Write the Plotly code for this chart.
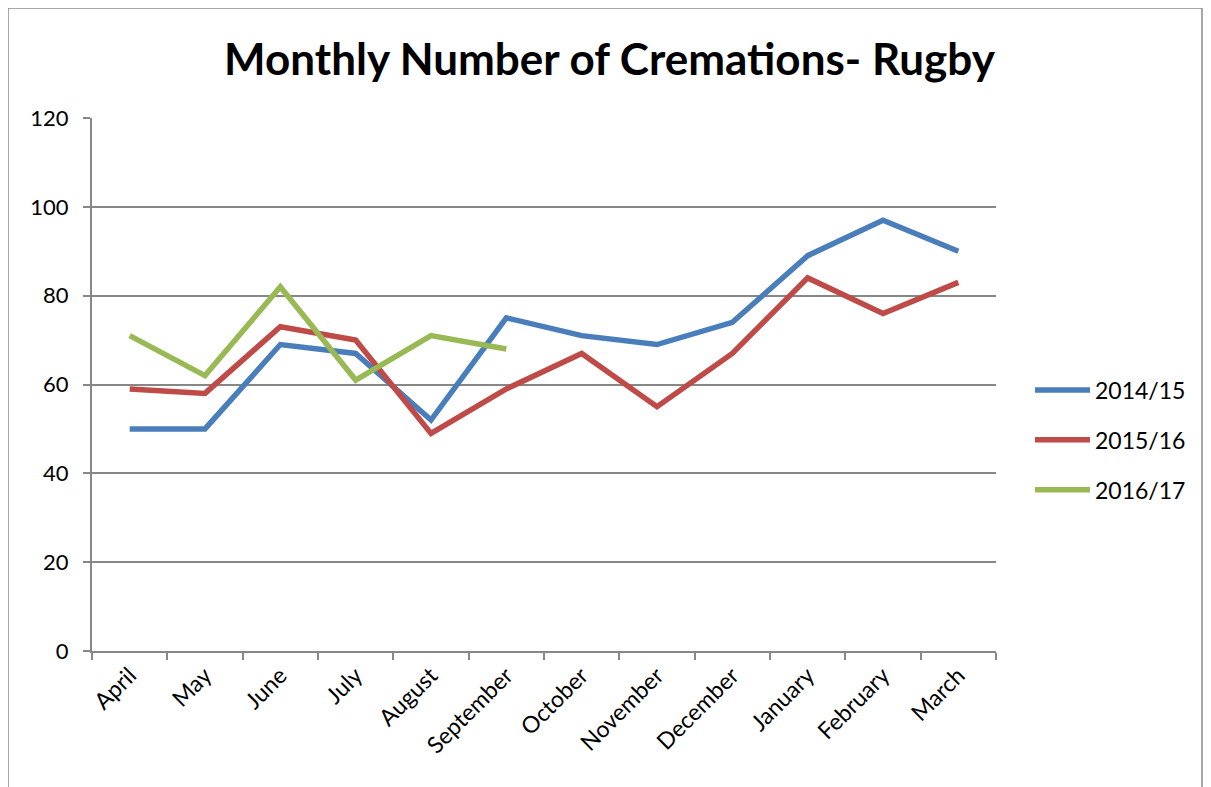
import plotly.graph_objects as go

months = ["April", "May", "June", "July", "August", "September", "October",
          "November", "December", "January", "February", "March"]
s2014 = [50, 50, 69, 67, 52, 75, 71, 69, 74, 89, 97, 90]
s2015 = [59, 58, 73, 70, 49, 59, 67, 55, 67, 84, 76, 83]
s2016 = [71, 62, 82, 61, 71, 68]
names = ["2014/15", "2015/16", "2016/17"]
colors = ["#4A7EBB", "#BE4B48", "#98B954"]

FONT = "Lato, Liberation Sans, sans-serif"

fig = go.Figure()
for i, (name, vals, col) in enumerate(zip(names, [s2014, s2015, s2016], colors)):
    fig.add_trace(go.Scatter(
        x=months[:len(vals)], y=vals, mode="lines", name=name,
        line=dict(color=col, width=5.5), legendgroup=name,
    ))

# page body has an 8px margin; figure is offset accordingly
W, H = 1203, 779
L, T, R, B = 84, 110, 215, 136
pw, ph = W - L - R, H - T - B

fig.update_layout(
    width=W, height=H,
    paper_bgcolor="white", plot_bgcolor="white",
    margin=dict(l=L, r=R, t=T, b=B, autoexpand=False),
    font=dict(family=FONT, size=22, color="black"),
    title=dict(text="<b>Monthly Number of Cremations- Rugby</b>",
               font=dict(size=44, family=FONT),
               x=0.5, xanchor="center", y=1 - 52 / H, yanchor="middle"),
    showlegend=True,
    legend=dict(x=(1030 - 92) / pw, xanchor="left", y=(651 - 440) / ph, yanchor="middle",
                font=dict(size=23), tracegroupgap=17, traceorder="grouped",
                itemwidth=55, bgcolor="rgba(0,0,0,0)"),
    xaxis=dict(type="category", categoryorder="array", categoryarray=months,
               range=[-0.5, 11.5], tickson="boundaries", ticks="outside",
               ticklen=7, tickcolor="#878787", tickwidth=1.5,
               showline=True, linecolor="#878787", linewidth=2,
               showgrid=False, tickangle=-45, tickfont=dict(size=23),
               automargin=False),
    yaxis=dict(range=[0, 120], tickvals=[0, 20, 40, 60, 80, 100, 120],
               ticks="outside", ticklen=7, tickcolor="#878787", tickwidth=1.5,
               showline=True, linecolor="#878787", linewidth=2,
               showgrid=True, gridcolor="#878787", gridwidth=1.5,
               zeroline=False, tickfont=dict(size=22), ticklabelstandoff=10,
               automargin=False),
    shapes=[dict(type="rect", xref="paper", yref="paper",
                 x0=(8 - 92) / pw, x1=(1202 - 92) / pw,
                 y0=(651 - 800) / ph, y1=(651 - 8) / ph,
                 line=dict(color="#8C8C8C", width=1.5), layer="below")],
)

fig.write_html("out.html")
